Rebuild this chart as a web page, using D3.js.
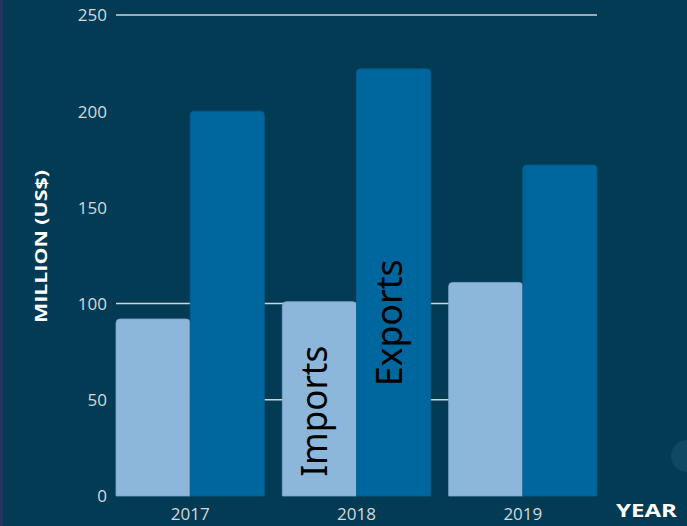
<!DOCTYPE html>
<html>
<head>
<meta charset="utf-8">
<script src="https://cdn.jsdelivr.net/npm/d3@7"></script>
<style>
  html, body { margin: 0; padding: 0; background: #043b54; overflow: hidden; }
  svg { display: block; }
</style>
</head>
<body>
<svg id="chart" width="687" height="526"></svg>
<script>
// ---- data ----
const years = ["2017", "2018", "2019"];
const seriesNames = ["Imports", "Exports"];
const imports = [92, 101, 111];
const exports = [200, 222, 172];
const yTicks = [0, 50, 100, 150, 200, 250];
const gridValues = [50, 100, 250];
const yTitle = "MILLION (US$)";
const xTitle = "YEAR";

const colors = { Imports: "#8db7da", Exports: "#00679e" };
const rows = years.map((yr, i) => ({ year: yr, Imports: imports[i], Exports: exports[i] }));

const svg = d3.select("#chart");
const W = 687, H = 526;

svg.append("rect").attr("width", W).attr("height", H).attr("fill", "#043b54");
svg.append("rect").attr("width", 3).attr("height", H).attr("fill", "#1e3660");
svg.append("circle").attr("cx", 687).attr("cy", 456).attr("r", 16).attr("fill", "#0e4862");

const x0 = d3.scaleBand().domain(years).range([116, 597]).paddingInner(0.108).paddingOuter(0);
const x1 = d3.scaleBand().domain(seriesNames).range([0, x0.bandwidth()]).padding(0);
const y = d3.scaleLinear().domain([0, 250]).range([496, 15]);

// gridlines
svg.append("g").selectAll("line").data(gridValues).join("line")
  .attr("x1", 116).attr("x2", 597)
  .attr("y1", d => y(d)).attr("y2", d => y(d))
  .attr("stroke", "#cdd5d9").attr("stroke-width", 1.5);

// y axis labels
const yAxis = d3.axisLeft(y).tickValues(yTicks).tickSize(0).tickPadding(0);
const gy = svg.append("g").attr("transform", "translate(107,0)").call(yAxis);
gy.select(".domain").remove();
gy.selectAll("text").attr("fill", "#d3d9dd").attr("font-family", "Open Sans, sans-serif")
  .attr("font-size", 17).attr("dy", "0.35em");

// x axis labels
const xAxis = d3.axisBottom(x0).tickSize(0).tickPadding(0);
const gx = svg.append("g").attr("transform", "translate(0,504)").call(xAxis);
gx.select(".domain").remove();
gx.selectAll("text").attr("fill", "#d3d9dd").attr("font-family", "Open Sans, sans-serif")
  .attr("font-size", 17).attr("dy", "0.95em");

// bars
function topRounded(x, yTop, w, h, r) {
  r = Math.min(r, w / 2, h);
  return `M${x},${yTop + h}V${yTop + r}Q${x},${yTop} ${x + r},${yTop}H${x + w - r}Q${x + w},${yTop} ${x + w},${yTop + r}V${yTop + h}Z`;
}
const groups = svg.append("g").selectAll("g").data(rows).join("g")
  .attr("transform", d => `translate(${x0(d.year)},0)`);
groups.selectAll("path").data(d => seriesNames.map(s => ({ s, v: d[s] }))).join("path")
  .attr("d", d => topRounded(x1(d.s), y(d.v), x1.bandwidth(), y(0) - y(d.v), 4))
  .attr("fill", d => colors[d.s])
  .attr("stroke", d => d.s === "Imports" ? "#7aa6c9" : "#005e90")
  .attr("stroke-width", 0.8);

// series labels inside 2018 bars
const labelYear = "2018";
const labelStart = { Imports: 10, Exports: 57 };
const labelLen = { Imports: 131, Exports: 127 };
seriesNames.forEach(s => {
  const cx = x0(labelYear) + x1(s) + x1.bandwidth() / 2 + 8;
  const sy = y(labelStart[s]);
  svg.append("text")
    .attr("transform", `translate(${cx},${sy}) rotate(-90)`)
    .attr("font-family", "Noto Sans, sans-serif").attr("font-size", 37)
    .attr("fill", "#000").attr("textLength", labelLen[s]).attr("lengthAdjust", "spacingAndGlyphs")
    .text(s);
});

// axis titles
svg.append("text")
  .attr("transform", "translate(47,323) rotate(-90)")
  .attr("font-family", "Open Sans, sans-serif").attr("font-weight", 700).attr("font-size", 16)
  .attr("fill", "#ffffff").attr("textLength", 153).attr("lengthAdjust", "spacingAndGlyphs")
  .text(yTitle);
svg.append("text")
  .attr("x", 616).attr("y", 517)
  .attr("font-family", "Open Sans, sans-serif").attr("font-weight", 700).attr("font-size", 18)
  .attr("fill", "#ffffff").attr("textLength", 61).attr("lengthAdjust", "spacingAndGlyphs")
  .text(xTitle);
</script>
</body>
</html>
